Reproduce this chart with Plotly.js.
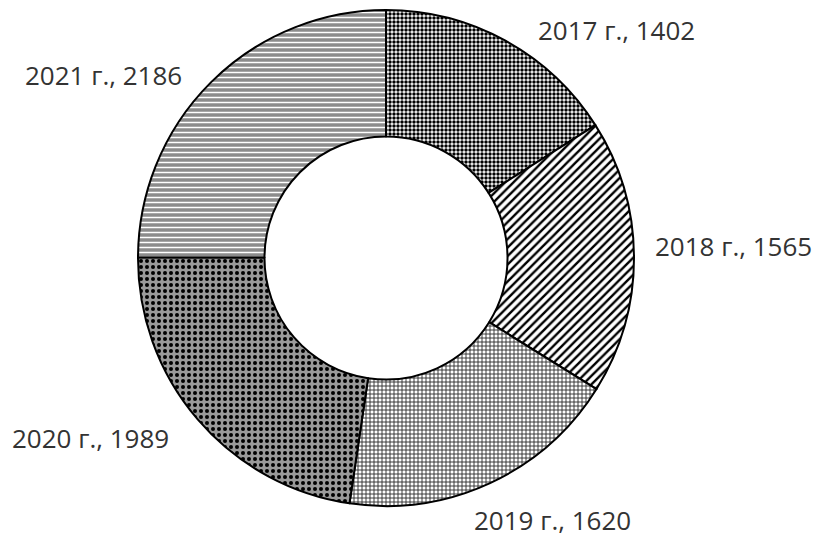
<!DOCTYPE html>
<html>
<head>
<meta charset="utf-8">
<script src="https://cdn.plot.ly/plotly-3.0.1.min.js"></script>
<style>html,body{margin:0;padding:0;background:#fff;}#chart{width:823px;height:537px;}</style>
</head>
<body>
<div id="chart"></div>
<script>
// Data
var years = ["2017 г.", "2018 г.", "2019 г.", "2020 г.", "2021 г."];
var values = [1402, 1565, 1620, 1989, 2186];

// Styles (patterns per slice)
var patShapes = [".", "/", "+", ".", "-"];
var patFg = ["#000000", "#000000", "#2a2a2a", "#000000", "#ffffff"];
var patBg = ["#ffffff", "#ffffff", "#ffffff", "#9a9a9a", "#8c8c8c"];
var patSize = [4, 6, 4, 6, 5];
var patSolid = [0.6, 0.4, 0.4, 0.35, 0.3];

// Label placement (pixel centers) — layout only
var labelPx = [[616, 30], [733, 246], [552, 520], [90, 438], [103, 75]];

var W = 823, H = 537;
var cx = 386, cy = 258, R = 248;

var trace = {
  type: "pie",
  labels: years,
  values: values,
  sort: false,
  direction: "clockwise",
  rotation: 0,
  hole: 0.49,
  textinfo: "none",
  hoverinfo: "label+value",
  domain: {x: [(cx - R) / W, (cx + R) / W], y: [(H - cy - R) / H, (H - cy + R) / H]},
  marker: {
    colors: patBg,
    line: {color: "#000000", width: 2},
    pattern: {shape: patShapes, fgcolor: patFg, bgcolor: patBg, size: patSize, solidity: patSolid, fillmode: "replace"}
  },
  showlegend: false
};

var annotations = years.map(function (y, i) {
  return {
    text: y + ", " + values[i],
    x: labelPx[i][0] / W,
    y: 1 - labelPx[i][1] / H,
    xref: "paper", yref: "paper",
    xanchor: "center", yanchor: "middle",
    showarrow: false,
    font: {family: "Open Sans, sans-serif", size: 26, color: "#333333"}
  };
});

var layout = {
  width: W, height: H,
  margin: {l: 0, r: 0, t: 0, b: 0},
  paper_bgcolor: "#ffffff",
  plot_bgcolor: "#ffffff",
  annotations: annotations,
  showlegend: false
};

Plotly.newPlot("chart", [trace], layout, {displayModeBar: false, staticPlot: true});
</script>
</body>
</html>
